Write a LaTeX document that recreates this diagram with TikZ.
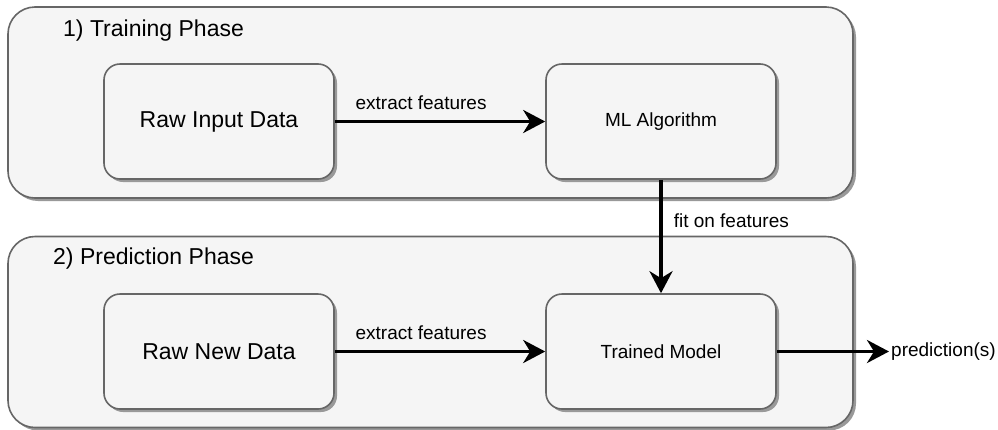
\documentclass[tikz,border=0pt]{standalone}
\usepackage{fontspec}
\setmainfont{Liberation Sans}
\usetikzlibrary{arrows.meta,shadows}
\definecolor{boxfill}{HTML}{F5F5F5}
\definecolor{boxline}{HTML}{666666}

\begin{document}
\begin{tikzpicture}[x=1pt,y=-1pt,
        shade/.style={drop shadow={shadow xshift=3pt,shadow yshift=-3pt,fill=black!40,opacity=1}},
        phase/.style={draw=boxline,fill=boxfill,line width=1.6pt,rounded corners=27pt,minimum width=845pt,minimum height=191pt,shade},
        block/.style={draw=boxline,fill=boxfill,line width=1.6pt,rounded corners=16pt,minimum width=230pt,minimum height=115pt,shade},
        flow/.style={line width=3.5pt,-{Stealth[length=22pt,width=23pt,inset=7pt]}},
        titlefont/.style={font=\fontsize{23}{27}\selectfont},
        labelfont/.style={font=\fontsize{19}{23}\selectfont}]
        \useasboundingbox (0,0) rectangle (998,429);

        \node[phase] (train) at (430.5,102.5) {};
        \node[phase] (predict) at (430.5,332) {};
        \node[titlefont,anchor=base west,inner sep=0] (traintitle) at (63,36) {1) Training Phase};
        \node[titlefont,anchor=base west,inner sep=0] (predicttitle) at (53,264) {2) Prediction Phase};

        \node[block,titlefont] (rawinput) at (219,121.5) {Raw Input Data};
        \node[block,labelfont] (algo) at (661,121.5) {ML Algorithm};
        \node[block,titlefont] (rawnew) at (219,351.5) {Raw New Data};
        \node[block,labelfont] (model) at (661,351.5) {Trained Model};
        \node[labelfont,anchor=west,inner sep=2pt] (pred) at (889,351.5) {prediction(s)};

        \draw[flow] (rawinput) -- node[labelfont,above=10pt,inner sep=0,pos=0.41] {extract features} (algo);
        \draw[flow] (algo) -- node[labelfont,anchor=base west,inner sep=0,xshift=11pt,pos=0.42] {fit on features} (model);
        \draw[flow] (rawnew) -- node[labelfont,above=10pt,inner sep=0,pos=0.41] {extract features} (model);
        \draw[flow] (model) -- (pred);
\end{tikzpicture}
\end{document}
